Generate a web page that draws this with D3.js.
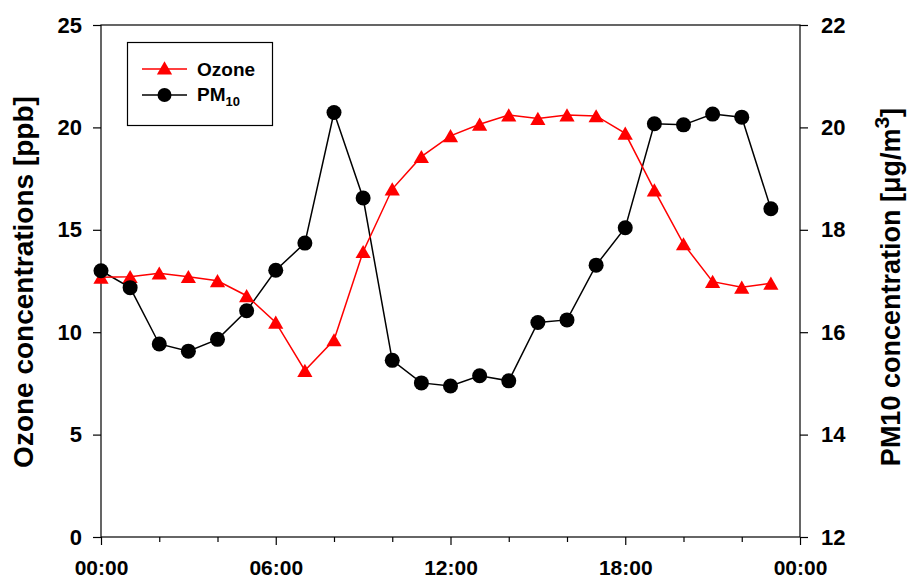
<!DOCTYPE html>
<html>
<head>
<meta charset="utf-8">
<style>
  body { margin: 0; background: #fff; }
  text { font-family: "Liberation Sans", Arial, sans-serif; font-weight: bold; }
</style>
</head>
<body>
<svg id="chart" width="910" height="580"></svg>
<script src="https://d3js.org/d3.v7.min.js"></script>
<script>

// hours of the day
var hours = d3.range(0, 24);
var ozone = [12.68, 12.71, 12.88, 12.71, 12.51, 11.78, 10.48, 8.13, 9.62, 13.93, 16.99, 18.57,
             19.59, 20.15, 20.6, 20.43, 20.6, 20.56, 19.71, 16.94, 14.31, 12.47, 12.19, 12.39];
var pm10 = [17.2, 16.87, 15.77, 15.63, 15.86, 16.42, 17.21, 17.74, 20.29, 18.62, 15.45, 15.01,
            14.95, 15.15, 15.05, 16.19, 16.24, 17.31, 18.04, 20.07, 20.05, 20.26, 20.2, 18.41];
var xTicks = [0, 6, 12, 18, 24];
var xMinorTicks = [2, 4, 8, 10, 14, 16, 20, 22];
var xTickLabels = ["00:00", "06:00", "12:00", "18:00", "00:00"];
var leftTicks = [0, 5, 10, 15, 20, 25];
var rightTicks = [12, 14, 16, 18, 20, 22];

var svg = d3.select("#chart");
var pLeft = 101, pRight = 800, pTop = 25, pBottom = 537;

var x = d3.scaleLinear().domain([0, 24]).range([pLeft, pRight]);
var yL = d3.scaleLinear().domain([0, 25]).range([pBottom, pTop]);
var yR = d3.scaleLinear().domain([12, 22]).range([pBottom, pTop]);

// frame
svg.append("rect")
    .attr("x", pLeft).attr("y", pTop)
    .attr("width", pRight - pLeft).attr("height", pBottom - pTop)
    .attr("fill", "none").attr("stroke", "#000").attr("stroke-width", 1.2);

function styleAxis(g, size) {
  g.selectAll("path").remove();
  g.selectAll("line").attr("stroke", "#000").attr("stroke-width", 1.2);
  g.selectAll("text").attr("font-size", (size || 22) + "px").attr("font-weight", "bold").attr("fill", "#000");
}

svg.append("g")
    .attr("transform", "translate(0," + pBottom + ")")
    .call(d3.axisBottom(x).tickValues(xMinorTicks).tickSize(5).tickFormat(""))
    .call(styleAxis);

svg.append("g")
    .attr("transform", "translate(0," + pBottom + ")")
    .call(d3.axisBottom(x).tickValues(xTicks).tickSize(8).tickPadding(15)
      .tickFormat(function (d, i) { return xTickLabels[i]; }))
    .call(styleAxis, 21);

svg.append("g")
    .attr("transform", "translate(" + pLeft + ",0)")
    .call(d3.axisLeft(yL).tickValues(leftTicks).tickSize(8).tickPadding(11))
    .call(styleAxis);

svg.append("g")
    .attr("transform", "translate(" + pRight + ",0)")
    .call(d3.axisRight(yR).tickValues(rightTicks).tickSize(8).tickPadding(13))
    .call(styleAxis);

// axis titles
svg.append("text")
    .attr("transform", "translate(33,282) rotate(-90)")
    .attr("text-anchor", "middle")
    .attr("font-size", "28px")
    .text("Ozone concentrations [ppb]");

var rt = svg.append("text")
    .attr("transform", "translate(900,287) rotate(-90)")
    .attr("text-anchor", "middle")
    .attr("font-size", "27px");
rt.append("tspan").text("PM10 concentration [\u03bcg/m");
rt.append("tspan").attr("dy", -11).attr("font-size", "21px").text("3");
rt.append("tspan").attr("dy", 11).text("]");

var line = d3.line();
var tri = d3.symbol().type(d3.symbolTriangle).size(100);

// PM10 line
svg.append("path")
    .attr("d", line(hours.map(function (h, i) { return [x(h), yR(pm10[i])]; })))
    .attr("fill", "none").attr("stroke", "#000").attr("stroke-width", 1.5);

// ozone line
svg.append("path")
    .attr("d", line(hours.map(function (h, i) { return [x(h), yL(ozone[i])]; })))
    .attr("fill", "none").attr("stroke", "#ff0000").attr("stroke-width", 1.5);

svg.selectAll("path.oz")
    .data(ozone).enter().append("path")
    .attr("class", "oz")
    .attr("d", tri)
    .attr("transform", function (d, i) { return "translate(" + x(hours[i]) + "," + (yL(d) + 2) + ")"; })
    .attr("fill", "#ff0000");

svg.selectAll("circle.pm")
    .data(pm10).enter().append("circle")
    .attr("class", "pm")
    .attr("cx", function (d, i) { return x(hours[i]); })
    .attr("cy", function (d) { return yR(d); })
    .attr("r", 7.5)
    .attr("fill", "#000");

// legend
var lg = svg.append("g");
lg.append("rect")
    .attr("x", 127.5).attr("y", 42.5).attr("width", 145).attr("height", 83)
    .attr("fill", "#fff").attr("stroke", "#000").attr("stroke-width", 1.2);
lg.append("line").attr("x1", 142).attr("x2", 187).attr("y1", 69).attr("y2", 69)
    .attr("stroke", "#ff0000").attr("stroke-width", 1.5);
lg.append("path").attr("d", tri).attr("transform", "translate(164.5,70)").attr("fill", "#ff0000");
lg.append("text").attr("x", 197).attr("y", 76).attr("font-size", "19px").text("Ozone");
lg.append("line").attr("x1", 142).attr("x2", 187).attr("y1", 95).attr("y2", 95)
    .attr("stroke", "#000").attr("stroke-width", 1.5);
lg.append("circle").attr("cx", 164.5).attr("cy", 95).attr("r", 7).attr("fill", "#000");
var pt = lg.append("text").attr("x", 197).attr("y", 101).attr("font-size", "19px");
pt.append("tspan").text("PM");
pt.append("tspan").attr("dy", 5).attr("font-size", "13px").text("10");

</script>
</body>
</html>
